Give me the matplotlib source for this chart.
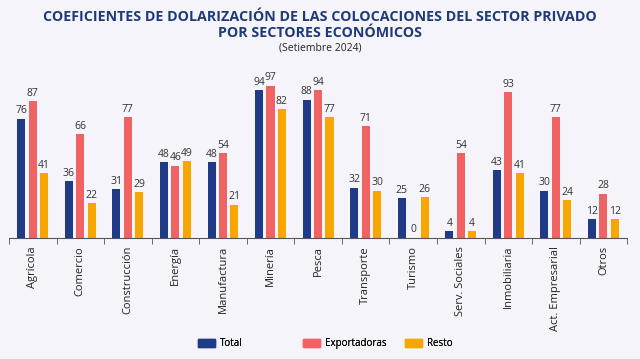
import numpy as np
import matplotlib.pyplot as plt
from matplotlib.patches import Patch

plt.rcParams['font.family'] = ['Open Sans', 'DejaVu Sans']

sectores = ['Agrícola', 'Comercio', 'Construcción', 'Energía', 'Manufactura', 'Minería',
            'Pesca', 'Transporte', 'Turismo', 'Serv. Sociales', 'Inmobiliaria',
            'Act. Empresarial', 'Otros']
total = [76, 36, 31, 48, 48, 94, 88, 32, 25, 4, 43, 30, 12]
exportadoras = [87, 66, 77, 46, 54, 97, 94, 71, 0, 54, 93, 77, 28]
resto = [41, 22, 29, 49, 21, 82, 77, 30, 26, 4, 41, 24, 12]

series = [('Total', total, '#1f3a87'),
          ('Exportadoras', exportadoras, '#ef6363'),
          ('Resto', resto, '#f7a600')]

bg = '#f4f4fa'
fig = plt.figure(figsize=(6.4, 3.59), dpi=100, facecolor=bg)
ax = fig.add_axes([0.014, 0.338, 0.966, 0.467], facecolor=bg)

x = np.arange(len(sectores))
w = 0.17
offs = [-0.24, 0, 0.24]
for (nombre, vals, col), o in zip(series, offs):
    bars = ax.bar(x + o, vals, w, color=col, label=nombre)
    for b, v in zip(bars, vals):
        ax.text(b.get_x() + b.get_width() / 2, v + 1.5, str(v), ha='center', va='bottom',
                fontsize=7.5, color='#333333')

ax.set_xlim(-0.5, len(sectores) - 0.5)
ax.set_ylim(0, 107)
for s in ['top', 'right', 'left']:
    ax.spines[s].set_visible(False)
ax.spines['bottom'].set_color('#555555')
ax.set_yticks([])
ax.set_xticks(x)
ax.set_xticklabels(sectores, rotation=90, fontsize=8, color='#222222')
ax.tick_params(axis='x', which='major', length=0, pad=6)
ax.set_xticks(np.arange(-0.5, len(sectores), 1), minor=True)
ax.tick_params(axis='x', which='minor', length=4, color='#555555')

fig.text(0.5, 0.952, 'COEFICIENTES DE DOLARIZACIÓN DE LAS COLOCACIONES DEL SECTOR PRIVADO',
         ha='center', va='center', fontsize=10.3, fontweight='bold', color='#1f3a7a')
fig.text(0.5, 0.908, 'POR SECTORES ECONÓMICOS', ha='center', va='center',
         fontsize=10.3, fontweight='bold', color='#1f3a7a')
fig.text(0.5, 0.866, '(Setiembre 2024)', ha='center', va='center', fontsize=7.5, color='#222222')

# una leyenda por serie, columnas de ancho fijo
leg_x = [198 / 640, 303 / 640, 405 / 640]
for (nombre, _, col), lx in zip(series, leg_x):
    leg = fig.legend([Patch(color=col)], [nombre], loc='center left', bbox_to_anchor=(lx, 0.042),
                     frameon=False, fontsize=7, handlelength=1.75, handleheight=1.0,
                     handletextpad=0.5, borderpad=0, borderaxespad=0)
    fig.add_artist(leg)

fig.savefig('out.png', dpi=100, facecolor=bg)
